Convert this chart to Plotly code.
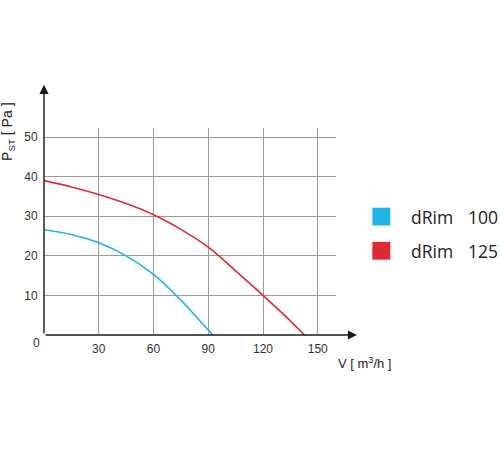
import plotly.graph_objects as go

# airflow V [m3/h] vs static pressure P_ST [Pa]
flow_100 = [0, 15, 30, 45, 60, 75, 85, 92.5]
pressure_100 = [26.6, 25.4, 23.3, 20.0, 15.3, 8.8, 3.8, 0]

flow_125 = [0, 15, 30, 45, 60, 75, 90, 105, 120, 132, 142.7]
pressure_125 = [39.0, 37.4, 35.5, 33.2, 30.4, 26.7, 22.2, 16.2, 10.0, 4.9, 0]

series_names = ["dRim", "dRim"]
series_sizes = ["100", "125"]
series_colors = ["#22b4e6", "#dc2b35"]

x_ticks = [30, 60, 90, 120, 150]
y_ticks = [10, 20, 30, 40, 50]

FONT = "Liberation Sans, Arial, sans-serif"

fig = go.Figure()
fig.add_trace(go.Scatter(x=flow_100, y=pressure_100, mode="lines",
                         line=dict(color=series_colors[0], width=1.6, shape="spline", smoothing=1.0),
                         showlegend=False, hoverinfo="skip"))
fig.add_trace(go.Scatter(x=flow_125, y=pressure_125, mode="lines",
                         line=dict(color=series_colors[1], width=1.6, shape="spline", smoothing=1.0),
                         showlegend=False, hoverinfo="skip"))

annotations = []
# axis arrows
annotations.append(dict(x=171.5, y=0, ax=0, ay=0, xref="x", yref="y", axref="x", ayref="y",
                        showarrow=True, arrowhead=2, arrowsize=1.3, arrowwidth=1.4,
                        arrowcolor="#1a1a1a", text=""))
annotations.append(dict(x=0, y=63.2, ax=0, ay=0, xref="x", yref="y", axref="x", ayref="y",
                        showarrow=True, arrowhead=2, arrowsize=1.3, arrowwidth=1.4,
                        arrowcolor="#1a1a1a", text=""))
# origin label
annotations.append(dict(x=0, y=0, xref="x", yref="y", text="0", showarrow=False,
                        xshift=-8, yshift=-8, font=dict(family=FONT, size=12, color="#333")))
# axis titles
annotations.append(dict(x=1.0, y=-0.134, xref="paper", yref="paper", text="V [ m<sup>3</sup>/h ]",
                        showarrow=False, xanchor="left", yanchor="middle",
                        font=dict(family=FONT, size=13, color="#222")))
annotations.append(dict(x=-0.124, y=0.98, xref="paper", yref="paper",
                        text="P<sub>ST</sub> [ Pa ]", textangle=-90, showarrow=False,
                        xanchor="center", yanchor="middle",
                        font=dict(family=FONT, size=14, color="#222")))

shapes = []
legend_y = [0.572, 0.407]
for name, size, color, yc in zip(series_names, series_sizes, series_colors, legend_y):
    shapes.append(dict(type="rect", xref="paper", yref="paper",
                       x0=1.1245, x1=1.186, y0=yc - 0.043, y1=yc + 0.043,
                       fillcolor=color, line=dict(width=0)))
    annotations.append(dict(x=1.251, y=yc, xref="paper", yref="paper", text=name,
                            showarrow=False, xanchor="left", yanchor="middle",
                            font=dict(family="Open Sans, sans-serif", size=17.5, color="#222")))
    annotations.append(dict(x=1.446, y=yc, xref="paper", yref="paper", text=size,
                            showarrow=False, xanchor="left", yanchor="middle",
                            font=dict(family="Open Sans, sans-serif", size=17.5, color="#222")))

fig.update_layout(
    width=500, height=450,
    margin=dict(l=44, r=164, t=128, b=115),
    paper_bgcolor="white", plot_bgcolor="white",
    annotations=annotations, shapes=shapes,
    font=dict(family=FONT, size=12, color="#333"),
)
fig.update_xaxes(range=[0, 160], tickvals=x_ticks, showgrid=True, gridcolor="#9a9a9a",
                 gridwidth=0.8, zeroline=False, showline=False,
                 ticks="outside", ticklen=3, tickcolor="rgba(0,0,0,0)",
                 tickfont=dict(family=FONT, size=12, color="#333"))
fig.update_yaxes(range=[0, 52.3], tickvals=y_ticks, showgrid=True, gridcolor="#9a9a9a",
                 gridwidth=0.8, zeroline=False, showline=False,
                 ticks="outside", ticklen=3, tickcolor="rgba(0,0,0,0)",
                 tickfont=dict(family=FONT, size=12, color="#333"))

# page without the default body margin so the figure sits at the window corner
fig.write_html("out.html", config={"displayModeBar": False},
               post_script="document.body.style.margin = '0';")
